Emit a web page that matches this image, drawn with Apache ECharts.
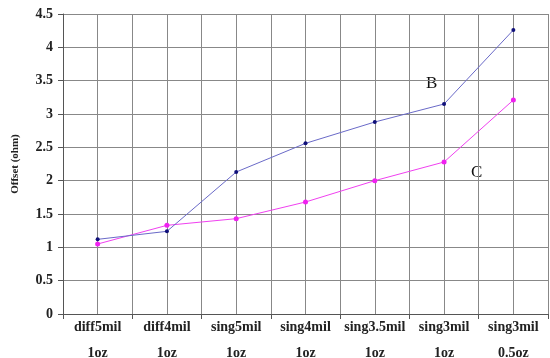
<!DOCTYPE html>
<html><head><meta charset="utf-8">
<script src="https://cdn.jsdelivr.net/npm/echarts@6/dist/echarts.min.js"></script>
<style>html,body{margin:0;padding:0;background:#fff}#c{width:550px;height:358px}</style>
</head><body><div id="c"></div>
<script>
const categories = ['diff5mil\n1oz','diff4mil\n1oz','sing5mil\n1oz','sing4mil\n1oz','sing3.5mil\n1oz','sing3mil\n1oz','sing3mil\n0.5oz'];
const seriesB = [1.12, 1.24, 2.13, 2.56, 2.88, 3.15, 4.26];
const seriesC = [1.05, 1.33, 1.43, 1.68, 2.0, 2.28, 3.21];
const yTicks = [0, 0.5, 1, 1.5, 2, 2.5, 3, 3.5, 4, 4.5];

const serif = '"Liberation Serif", "DejaVu Serif", serif';
const chart = echarts.init(document.getElementById('c'));
chart.setOption({
  animation: false,
  backgroundColor: '#fff',
  grid: {left: 63, right: 2, top: 14, bottom: 44, containLabel: false, outerBoundsMode: 'none'},
  xAxis: [{
    type: 'category', data: categories, boundaryGap: true,
    axisLine: {lineStyle: {color: '#555', width: 1}},
    axisTick: {show: true, length: 5, lineStyle: {color: '#555'}},
    axisLabel: {fontFamily: serif, fontWeight: 'bold', fontSize: 14, color: '#222', lineHeight: 26, margin: 0, interval: 0},
    splitLine: {show: false}
  }, {
    type: 'value', min: -0.5, max: 6.5, interval: 0.5, position: 'bottom',
    axisLine: {show: false}, axisTick: {show: false}, axisLabel: {show: false},
    splitLine: {show: true, lineStyle: {color: '#888', width: 1}}
  }],
  yAxis: {
    type: 'value', min: yTicks[0], max: yTicks[yTicks.length-1], interval: 0.5,
    name: 'Offset (ohm)', nameLocation: 'middle', nameGap: 42, nameRotate: 90,
    nameTextStyle: {fontFamily: serif, fontWeight: 'bold', fontSize: 11, color: '#222'},
    axisLine: {show: true, onZero: false, lineStyle: {color: '#555'}},
    axisTick: {show: true, length: 5, lineStyle: {color: '#555'}},
    axisLabel: {fontFamily: serif, fontWeight: 'bold', fontSize: 14, color: '#222', margin: 10},
    splitLine: {show: true, lineStyle: {color: '#888', width: 1}}
  },
  series: [{
    name: 'B', type: 'line', data: seriesB, xAxisIndex: 0,
    symbol: 'circle', symbolSize: 4,
    lineStyle: {color: '#6a6ac8', width: 1},
    itemStyle: {color: '#10107a'}, z: 3
  }, {
    name: 'C', type: 'line', data: seriesC, xAxisIndex: 0,
    symbol: 'circle', symbolSize: 5,
    lineStyle: {color: '#f040f0', width: 1},
    itemStyle: {color: '#f020f0'}, z: 2
  }],
  graphic: [
    {type: 'text', left: 426, top: 75, style: {text: 'B', font: '17px "Liberation Serif", serif', fill: '#111'}},
    {type: 'text', left: 471, top: 164, style: {text: 'C', font: '17px "Liberation Serif", serif', fill: '#111'}}
  ]
});
</script></body></html>
